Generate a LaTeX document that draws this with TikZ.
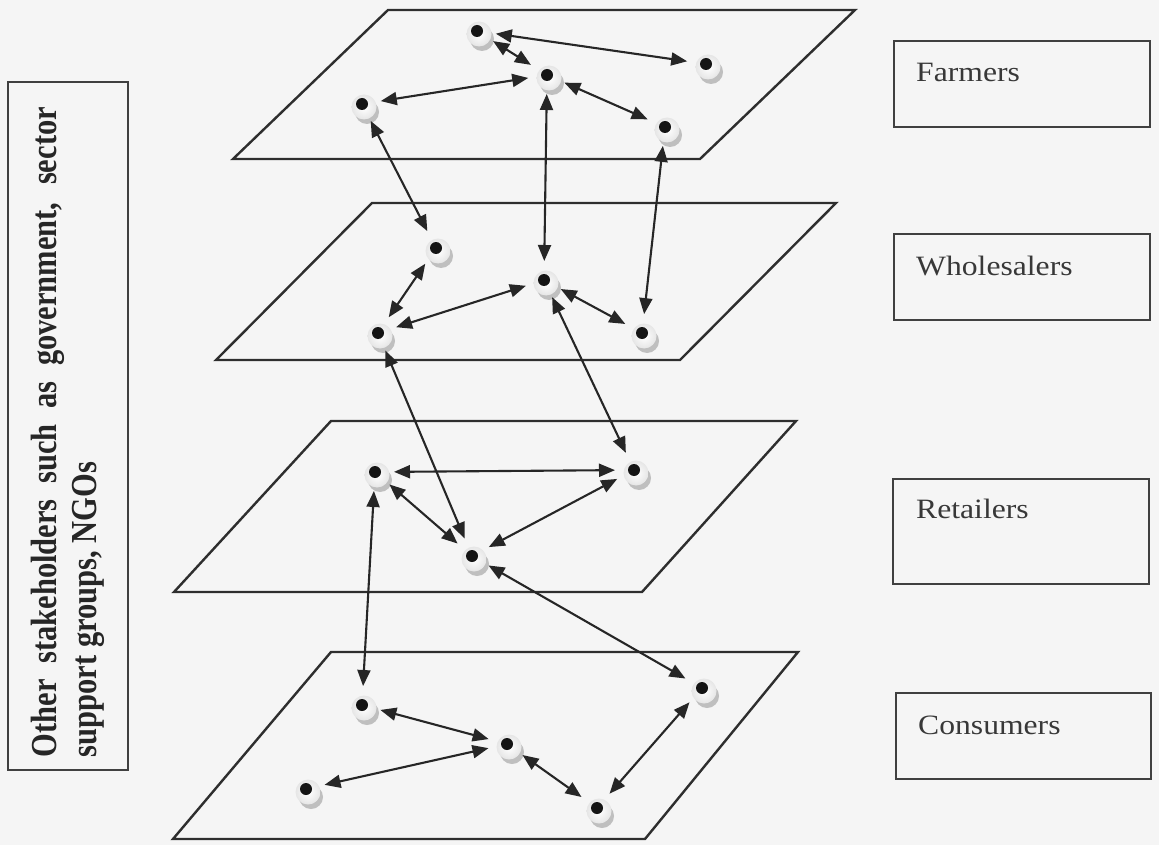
\documentclass[tikz,border=0pt]{standalone}
\usepackage{fontspec}
\setmainfont{Liberation Serif}
\usetikzlibrary{arrows.meta}
\tikzset{
  pt/.style={circle, minimum size=36pt, inner sep=0pt, outer sep=0pt},
  link/.style={{Triangle[length=16pt,width=13pt]}-{Triangle[length=16pt,width=13pt]}, line width=2.1pt, draw=black!85, shorten <=1pt, shorten >=1pt},
  plane/.style={draw=black!82, line width=2.4pt, line join=miter},
  lbox/.style={draw=black!75, line width=1.8pt},
  lbl/.style={anchor=base west, inner sep=0pt, text=black!78, font=\fontsize{28}{30}\selectfont}
}
\begin{document}
\begin{tikzpicture}[x=1pt,y=-1pt]
\useasboundingbox (0,0) rectangle (1159,845);
\fill[black!4] (0,0) rectangle (1159,845);

% planes
\draw[plane] (388,10) -- (855,10) -- (700,159) -- (233,159) -- cycle;
\draw[plane] (372,203) -- (836,203) -- (680,360) -- (216,360) -- cycle;
\draw[plane] (331,421) -- (796,421) -- (642,592) -- (174,592) -- cycle;
\draw[plane] (331,652) -- (798,652) -- (645,839) -- (173,839) -- cycle;

% nodes (pebbles)
\foreach \n/\x/\y in {F1/477/31, F2/706/64, F3/547/75, F4/362/104, F5/665/127,
                      W1/436/248, W2/544/280, W3/378/333, W4/642/333,
                      R1/375/472, R2/634/470, R3/472/556,
                      C1/702/688, C2/362/705, C3/507/744, C4/306/789, C5/597/808} {
  \fill[black!25] (\x+5,\y+8) circle[radius=12pt];
  \shade[inner color=white, outer color=black!10] (\x+2,\y+3) circle[radius=12.5pt];
  \fill[black!92] (\x,\y) circle[radius=6pt];
  \node[pt] (\n) at (\x,\y) {};
}

% links within Farmers plane
\draw[link] (F1) -- (F2);
\draw[link] (F1) -- (F3);
\draw[link] (F4) -- (F3);
\draw[link] (F3) -- (F5);
% Farmers - Wholesalers
\draw[link] (F4) -- (W1);
\draw[link] (F3) -- (W2);
\draw[link] (F5) -- (W4);
% Wholesalers plane
\draw[link] (W1) -- (W3);
\draw[link] (W3) -- (W2);
\draw[link] (W2) -- (W4);
% Wholesalers - Retailers
\draw[link] (W3) -- (R3);
\draw[link] (W2) -- (R2);
% Retailers plane
\draw[link] (R1) -- (R2);
\draw[link] (R1) -- (R3);
\draw[link] (R3) -- (R2);
% Retailers - Consumers
\draw[link] (R1) -- (C2);
\draw[link] (R3) -- (C1);
% Consumers plane
\draw[link] (C2) -- (C3);
\draw[link] (C3) -- (C4);
\draw[link] (C3) -- (C5);
\draw[link] (C1) -- (C5);

% right-hand label boxes
\draw[lbox] (894,41) rectangle (1150,127);
\node[lbl] (farmers) at (916,82) {\scalebox{1.13}[1]{Farmers}};
\draw[lbox] (894,234) rectangle (1150,320);
\node[lbl] (wholesalers) at (916,275) {\scalebox{1.13}[1]{Wholesalers}};
\draw[lbox] (893,479) rectangle (1149,584);
\node[lbl] (retailers) at (916,518) {\scalebox{1.13}[1]{Retailers}};
\draw[lbox] (896,693) rectangle (1151,779);
\node[lbl] (consumers) at (918,734) {\scalebox{1.13}[1]{Consumers}};

% left box
\draw[lbox] (8,82) rectangle (128,770);
\node[rotate=90, inner sep=0pt, text=black!85] (others) at (68,432)
  {\scalebox{1}[1.2]{\parbox{650pt}{\fontsize{30.5}{33.5}\selectfont\bfseries Other stakeholders such as government, sector\linebreak support groups, NGOs}}};
\end{tikzpicture}
\end{document}
